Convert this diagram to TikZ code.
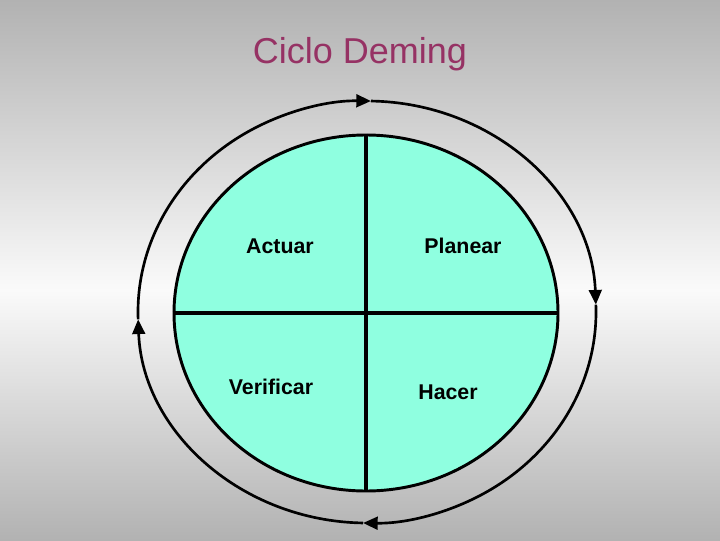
\documentclass[tikz,border=0pt]{standalone}
\usepackage{fontspec}
\setmainfont{Liberation Sans}
\usetikzlibrary{arrows.meta,shapes.geometric}
\definecolor{bggray}{RGB}{178,178,178}
\definecolor{bgwhite}{RGB}{250,250,250}
\definecolor{titlecol}{RGB}{150,50,100}
\definecolor{diskcol}{RGB}{143,255,224}
\tikzset{
  ring/.style={line width=2pt,-{Triangle[length=11pt,width=9.5pt]}},
  label/.style={font=\fontsize{16}{19}\selectfont\bfseries, text=black},
  divider/.style={line width=2.4pt}
}
\begin{document}
\begin{tikzpicture}[x=0.75pt,y=0.75pt]
\useasboundingbox (0,0) rectangle (720,540);
\shade[top color=bggray, bottom color=bgwhite] (0,540) rectangle (720,250);
\shade[top color=bgwhite, bottom color=bggray] (0,250) rectangle (720,0);
% title
\node[text=titlecol, font=\fontsize{27}{32}\selectfont] (title) at (360,486) {Ciclo Deming};
% inner disk
\node[ellipse, draw, line width=2.2pt, fill=diskcol, inner sep=0pt,
      minimum width=288pt, minimum height=267pt] (disk) at (366,227) {};
\draw[divider] (disk.north) -- (disk.south);
\draw[divider] (disk.west) -- (disk.east);
% labels
\node[label] (actuar) at (280,294) {Actuar};
\node[label] (planear) at (463,294) {Planear};
\node[label] (verificar) at (271,153) {Verificar};
\node[label] (hacer) at (448,148) {Hacer};
% outer ring
\coordinate (c) at (367,228);
\path (c) ++(182:229 and 211) coordinate (pL);
\path (c) ++(89:229 and 211) coordinate (pT);
\path (c) ++(2:229 and 211) coordinate (pR);
\path (c) ++(-91:229 and 211) coordinate (pB);
\draw[ring] (pL) arc[start angle=182, end angle=89, x radius=229, y radius=211];
\draw[ring] (pT) arc[start angle=89, end angle=2, x radius=229, y radius=211];
\draw[ring] (pR) arc[start angle=2, end angle=-91, x radius=229, y radius=211];
\draw[ring] (pB) arc[start angle=269, end angle=182, x radius=229, y radius=211];
\end{tikzpicture}
\end{document}
